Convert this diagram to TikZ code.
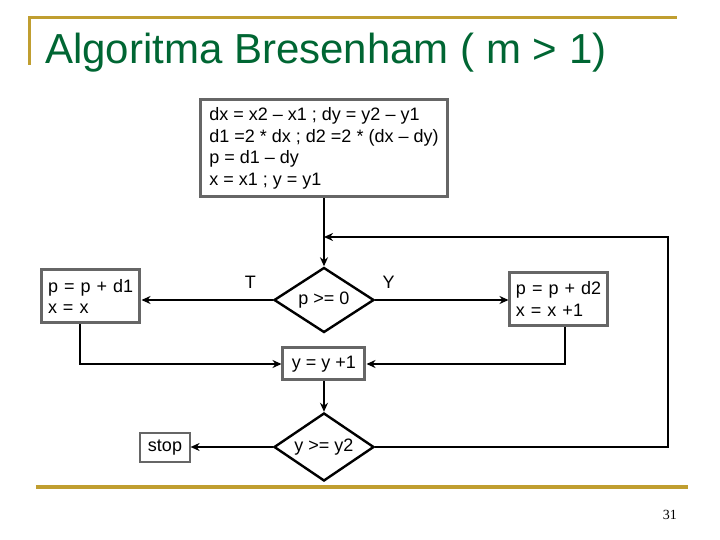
\documentclass[tikz,border=0pt]{standalone}
\usepackage{fontspec}
\setmainfont{Liberation Sans}
\newfontfamily\numfont{Liberation Serif}
\usetikzlibrary{arrows.meta,shapes.geometric}
\definecolor{titlegreen}{RGB}{0,102,51}
\definecolor{gold}{RGB}{192,158,48}
\definecolor{boxgray}{RGB}{102,102,102}
\begin{document}
\begin{tikzpicture}[x=0.5pt,y=-0.5pt,every node/.style={font=\fontsize{9}{10.75}\selectfont},
  procbox/.style={draw=boxgray,line width=1.5pt,fill=white,inner xsep=3pt,inner ysep=2pt},
  decbox/.style={draw,diamond,aspect=1.6,line width=1.2pt,inner sep=0pt,fill=white},
  flow/.style={line width=1.3pt,-{Stealth[length=4.5pt,width=4pt]}}]
\useasboundingbox (0,0) rectangle (720,540);
% slide frame
\draw[gold,line width=1.5pt] (30,65) -- (30,18) -- (677,18);
\draw[gold,line width=2pt] (36,487) -- (688,487);
\node[anchor=west,text=titlegreen,font=\fontsize{21}{25}\selectfont] (title) at (38,53) {Algoritma Bresenham ( m > 1)};
\node[font=\numfont\fontsize{7}{8}\selectfont] (page) at (670,515) {31};
% blocks
\node[procbox,align=left,minimum width=123.5pt,minimum height=48.5pt] (init) at (324,148.5)
  {dx = x2 -- x1 ; dy = y2 -- y1\\ d1 =2 * dx ; d2 =2 * (dx -- dy)\\ p = d1 -- dy\\ x = x1 ; y = y1};
\node[decbox,minimum width=50pt,minimum height=32.5pt] (cek1) at (324,300) {p >= 0};
\node[procbox,text width=43pt,align=left,minimum height=26.5pt] (upd1) at (91,296.5) {p = p + d1\\ x = x};
\node[procbox,text width=43pt,align=left,minimum height=26.5pt] (upd2) at (559,299) {p = p + d2\\ x = x +1};
\node[procbox,minimum width=41pt,minimum height=16pt] (inc) at (324,364) {y = y +1};
\node[decbox,minimum width=50pt,minimum height=34pt] (cek2) at (324,447) {y >= y2};
\node[draw=boxgray,line width=0.6pt,minimum width=25pt,minimum height=14.5pt,inner sep=1pt] (stop) at (165,447.5) {stop};
\coordinate (join) at (324,237);
\coordinate (back) at (668,237);
% connectors
\draw[flow] (init) -- (cek1);
\draw[flow] (cek1.west) -- (cek1.west -| upd1.east) node[pos=0.17,above=2pt] {T};
\draw[flow] (cek1.east) -- (cek1.east -| upd2.west) node[pos=0.1,above=2pt] {Y};
\draw[flow] ([xshift=-5.5pt]upd1.south) |- (inc.west);
\draw[flow] ([xshift=3pt]upd2.south) |- (inc.east);
\draw[flow] (inc) -- (cek2);
\draw[flow] (cek2.west) -- (cek2.west -| stop.east);
\draw[flow] (cek2.east) -| (back) -- (join);
\end{tikzpicture}
\end{document}
